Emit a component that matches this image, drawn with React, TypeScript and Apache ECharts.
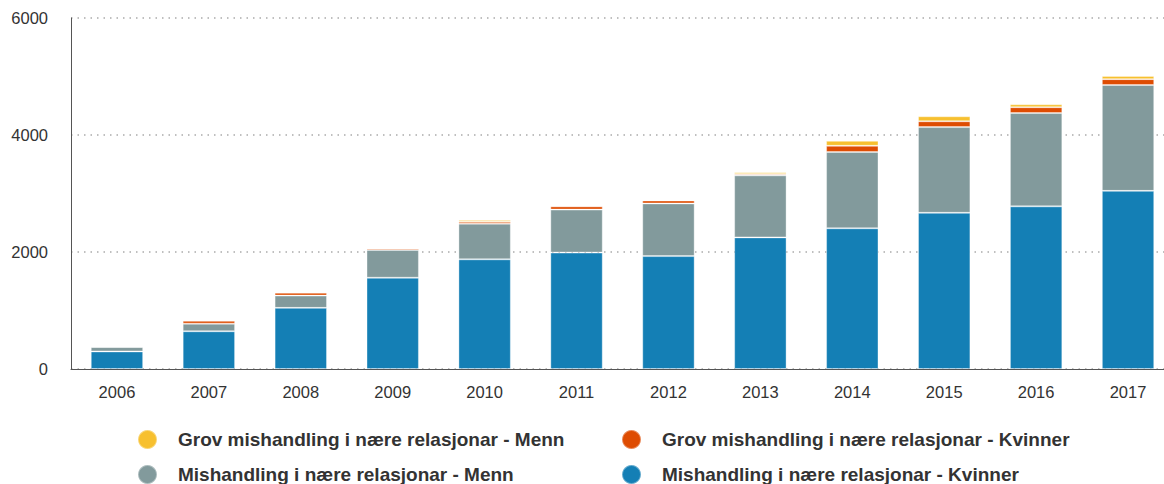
import React, { useEffect, useRef } from "react";
import * as echarts from "echarts";

const years = ["2006", "2007", "2008", "2009", "2010", "2011", "2012", "2013", "2014", "2015", "2016", "2017"];
const mishKvinner = [300, 645, 1045, 1560, 1875, 1990, 1930, 2250, 2405, 2670, 2780, 3045];
const mishMenn = [75, 130, 210, 475, 610, 735, 900, 1060, 1305, 1465, 1595, 1810];
const grovKvinner = [5, 50, 50, 25, 30, 55, 50, 25, 105, 100, 100, 100];
const grovMenn = [0, 5, 5, 5, 30, 5, 5, 30, 85, 85, 50, 55];

const names = {
  grovMenn: "Grov mishandling i nære relasjonar - Menn",
  grovKvinner: "Grov mishandling i nære relasjonar - Kvinner",
  mishMenn: "Mishandling i nære relasjonar - Menn",
  mishKvinner: "Mishandling i nære relasjonar - Kvinner",
};

const colors = {
  grovMenn: "#f7c02f",
  grovKvinner: "#de4c02",
  mishMenn: "#829a9c",
  mishKvinner: "#147fb5",
};

export default function App() {
  const ref = useRef<HTMLDivElement>(null);
  useEffect(() => {
    if (!ref.current) return;
    const chart = echarts.init(ref.current, null, { renderer: "svg" });
    const font = "'Liberation Sans', Arial, sans-serif";
    const legendText = { fontFamily: font, fontSize: 19, fontWeight: "bold", color: "#333" };
    const mkLegend = (name: string, left: number, top: number) => ({
      data: [name],
      left,
      top,
      padding: 0,
      icon: "circle",
      itemWidth: 19,
      itemHeight: 19,
      itemGap: 0,
      textStyle: { ...legendText, padding: [0, 0, 0, 16] },
      selectedMode: false,
    });
    const mkSeries = (key: keyof typeof names, data: number[]) => ({
      name: names[key],
      type: "bar",
      stack: "total",
      data,
      barCategoryGap: "43%",
      itemStyle: { color: colors[key], borderColor: "rgba(255,255,255,0.35)", borderWidth: 1 },
    });
    chart.setOption({
      animation: false,
      textStyle: { fontFamily: font },
      grid: { left: 71, top: 18, width: 1103, height: 351 },
      legend: [
        mkLegend(names.grovMenn, 137, 429),
        mkLegend(names.grovKvinner, 621, 429),
        mkLegend(names.mishMenn, 137, 464),
        mkLegend(names.mishKvinner, 621, 464),
      ],
      xAxis: {
        type: "category",
        data: years,
        axisLine: { show: true, lineStyle: { color: "#555", width: 1 } },
        axisTick: { show: false },
        axisLabel: { color: "#333", fontSize: 16.5, margin: 14, fontFamily: font },
      },
      yAxis: {
        type: "value",
        min: 0,
        max: 6000,
        interval: 2000,
        axisLine: { show: true, lineStyle: { color: "#555", width: 1 } },
        axisTick: { show: false },
        axisLabel: {
          color: "#333",
          fontSize: 16.5,
          margin: 23,
          fontFamily: font,
          formatter: (v: number) => String(v),
        },
        splitLine: { show: true, lineStyle: { color: "#aaa", width: 1.5, type: [1.5, 5] } },
      },
      series: [
        mkSeries("mishKvinner", mishKvinner),
        mkSeries("mishMenn", mishMenn),
        mkSeries("grovKvinner", grovKvinner),
        mkSeries("grovMenn", grovMenn),
      ],
    });
    return () => chart.dispose();
  }, []);
  return (
    <div
      style={{
        position: "absolute",
        left: 0,
        top: 0,
        width: 1164,
        height: 484,
        overflow: "hidden",
        background: "#fff",
      }}
    >
      <div ref={ref} style={{ width: 1190, height: 484 }} />
    </div>
  );
}
